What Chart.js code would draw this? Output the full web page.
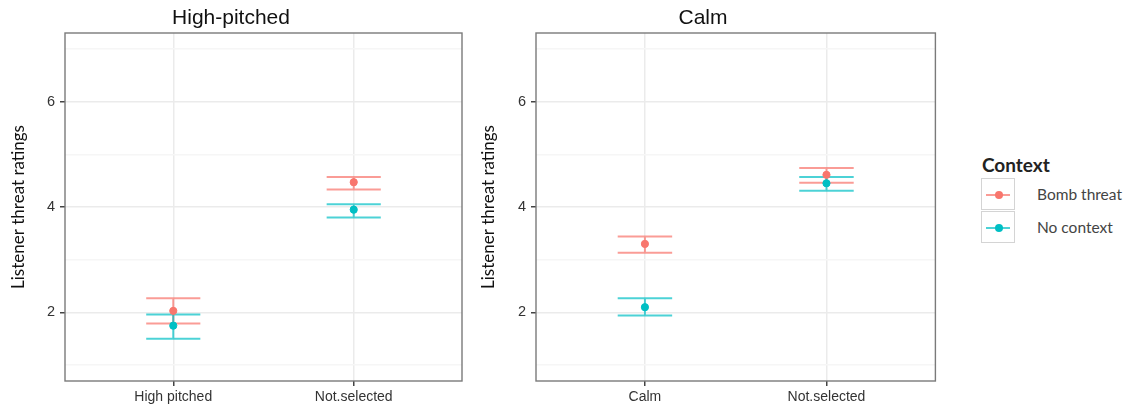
<!DOCTYPE html>
<html>
<head>
<meta charset="utf-8">
<title>Listener threat ratings</title>
<script src="https://cdn.jsdelivr.net/npm/chart.js@4/dist/chart.umd.min.js"></script>
<style>
  html, body { margin: 0; padding: 0; background: #fff; }
  #wrap { position: relative; width: 1143px; height: 412px; overflow: hidden; }
  #wrap canvas { position: absolute; top: 0; }
  #chartHigh { left: 0; }
  #chartCalm { left: 470px; }
  .legend-title { position: absolute; left: 982px; top: 153px; font: bold 19px Lato, sans-serif; color: #222; }
  .key { position: absolute; left: 981px; width: 34px; height: 32px; border: 1px solid #d4d4d4; box-sizing: border-box; }
  .key .seg { position: absolute; left: 4px; right: 4px; top: 15px; height: 2px; }
  .key .dot { position: absolute; left: 13px; top: 12px; width: 8px; height: 8px; border-radius: 50%; }
  .key-label { position: absolute; left: 1037px; font: 15.5px Lato, sans-serif; color: #444; }
</style>
</head>
<body>
<div id="wrap">
  <canvas id="chartHigh" width="470" height="412"></canvas>
  <canvas id="chartCalm" width="470" height="412"></canvas>
  <div id="legend"></div>
</div>
<script>
// Panel titles and categories
const panelTitles = ['High-pitched', 'Calm'];
const highCategories = ['High pitched', 'Not.selected'];
const calmCategories = ['Calm', 'Not.selected'];
const contexts = ['Bomb threat', 'No context'];
const contextColors = ['#F8766D', '#00BFC4'];
const barColors = ['rgba(248,118,109,0.72)', 'rgba(0,191,196,0.7)'];

// Means and error bar limits, High-pitched panel
const highBombMean = [2.03, 4.47];
const highBombLow = [1.79, 4.33];
const highBombHigh = [2.27, 4.57];
const highNoneMean = [1.75, 3.95];
const highNoneLow = [1.50, 3.80];
const highNoneHigh = [1.96, 4.05];

// Means and error bar limits, Calm panel
const calmBombMean = [3.30, 4.61];
const calmBombLow = [3.13, 4.46];
const calmBombHigh = [3.44, 4.74];
const calmNoneMean = [2.10, 4.45];
const calmNoneLow = [1.94, 4.31];
const calmNoneHigh = [2.27, 4.57];

// y axis limits and labelled ticks
const yLimits = [1, 7];
const yLabelTicks = [2, 4, 6];
const yTitle = 'Listener threat ratings';
const capWidth = 0.3;

Chart.defaults.font.family = '"Liberation Sans", Arial, sans-serif';
Chart.defaults.color = '#333';

function points(means, lows, highs) {
  return means.map((m, i) => ({ x: i + 1, y: m, low: lows[i], high: highs[i] }));
}

// Error bars drawn under the points, using the chart's scales
const errorBars = {
  id: 'errorBars',
  beforeDatasetsDraw(chart) {
    const { ctx, scales: { x, y } } = chart;
    ctx.save();
    chart.data.datasets.forEach((ds, di) => {
      ctx.strokeStyle = barColors[di];
      ctx.lineWidth = 2;
      ds.data.forEach(p => {
        const cx = x.getPixelForValue(p.x);
        const x0 = x.getPixelForValue(p.x - capWidth / 2);
        const x1 = x.getPixelForValue(p.x + capWidth / 2);
        const yl = y.getPixelForValue(p.low);
        const yh = y.getPixelForValue(p.high);
        ctx.beginPath();
        ctx.moveTo(x0, yh); ctx.lineTo(x1, yh);
        ctx.moveTo(x0, yl); ctx.lineTo(x1, yl);
        ctx.moveTo(cx, yh); ctx.lineTo(cx, yl);
        ctx.stroke();
      });
    });
    ctx.restore();
  }
};

// Grey frame round the panel
const panelBorder = {
  id: 'panelBorder',
  afterDraw(chart) {
    const { ctx, chartArea: a } = chart;
    ctx.save();
    ctx.strokeStyle = '#7a7a7a';
    ctx.lineWidth = 1.4;
    ctx.strokeRect(a.left, a.top, a.right - a.left, a.bottom - a.top);
    ctx.restore();
  }
};

function makePanel(canvasId, title, categories, bomb, none, rightPad) {
  const pad = (yLimits[1] - yLimits[0]) * 0.05;
  return new Chart(document.getElementById(canvasId), {
    type: 'scatter',
    data: {
      datasets: [
        { label: contexts[0], data: bomb, backgroundColor: contextColors[0], borderColor: contextColors[0], pointRadius: 3.6, pointHoverRadius: 3.6 },
        { label: contexts[1], data: none, backgroundColor: contextColors[1], borderColor: contextColors[1], pointRadius: 3.6, pointHoverRadius: 3.6 }
      ]
    },
    options: {
      responsive: false,
      animation: false,
      devicePixelRatio: 1,
      layout: { padding: { left: 0, right: rightPad, top: 0, bottom: 0 } },
      plugins: {
        legend: { display: false },
        tooltip: { enabled: false },
        title: {
          display: true,
          text: title,
          color: '#111',
          font: { size: 21, weight: 'normal' },
          padding: { top: 6, bottom: 1.8 }
        }
      },
      scales: {
        x: {
          type: 'linear',
          min: 0.4,
          max: 2.6,
          afterBuildTicks: s => { s.ticks = categories.map((c, i) => ({ value: i + 1 })); },
          afterFit: s => { s.height = 31; },
          ticks: {
            callback: v => categories[v - 1],
            color: '#333',
            font: { size: 14 },
            padding: 3,
            maxRotation: 0
          },
          grid: { color: '#ebebeb', lineWidth: 1.5, tickLength: 5, tickColor: '#444' },
          border: { display: false }
        },
        y: {
          min: yLimits[0] - pad,
          max: yLimits[1] + pad,
          afterBuildTicks: s => {
            const t = [];
            for (let v = yLimits[0]; v <= yLimits[1]; v++) t.push({ value: v });
            s.ticks = t;
          },
          afterFit: s => { s.width = canvasId === 'chartHigh' ? 65 : 66; },
          ticks: {
            callback: v => yLabelTicks.includes(v) ? String(v) : '',
            color: '#333',
            font: { size: 14.5 },
            padding: 5
          },
          grid: {
            color: c => c.tick && c.tick.value % 2 === 0 ? '#ebebeb' : '#f6f6f6',
            lineWidth: 1.5,
            tickLength: 5,
            tickColor: c => c.tick && c.tick.value % 2 === 0 ? '#444' : 'rgba(0,0,0,0)'
          },
          border: { display: false },
          title: {
            display: true,
            text: yTitle,
            color: '#111',
            font: { family: 'Lato, sans-serif', size: 17 },
            padding: { top: 8, bottom: 0 }
          }
        }
      }
    },
    plugins: [errorBars, panelBorder]
  });
}

makePanel('chartHigh', panelTitles[0], highCategories,
  points(highBombMean, highBombLow, highBombHigh),
  points(highNoneMean, highNoneLow, highNoneHigh), 8);

makePanel('chartCalm', panelTitles[1], calmCategories,
  points(calmBombMean, calmBombLow, calmBombHigh),
  points(calmNoneMean, calmNoneLow, calmNoneHigh), 4);

// Legend for the Context colours
const legend = document.getElementById('legend');
legend.innerHTML = '<div class="legend-title">Context</div>';
contexts.forEach((name, i) => {
  const top = 178 + i * 33;
  legend.innerHTML +=
    `<div class="key" style="top:${top}px">` +
    `<div class="seg" style="background:${barColors[i]}"></div>` +
    `<div class="dot" style="background:${contextColors[i]}"></div></div>` +
    `<div class="key-label" style="top:${top + 7}px">${name}</div>`;
});
</script>
</body>
</html>
